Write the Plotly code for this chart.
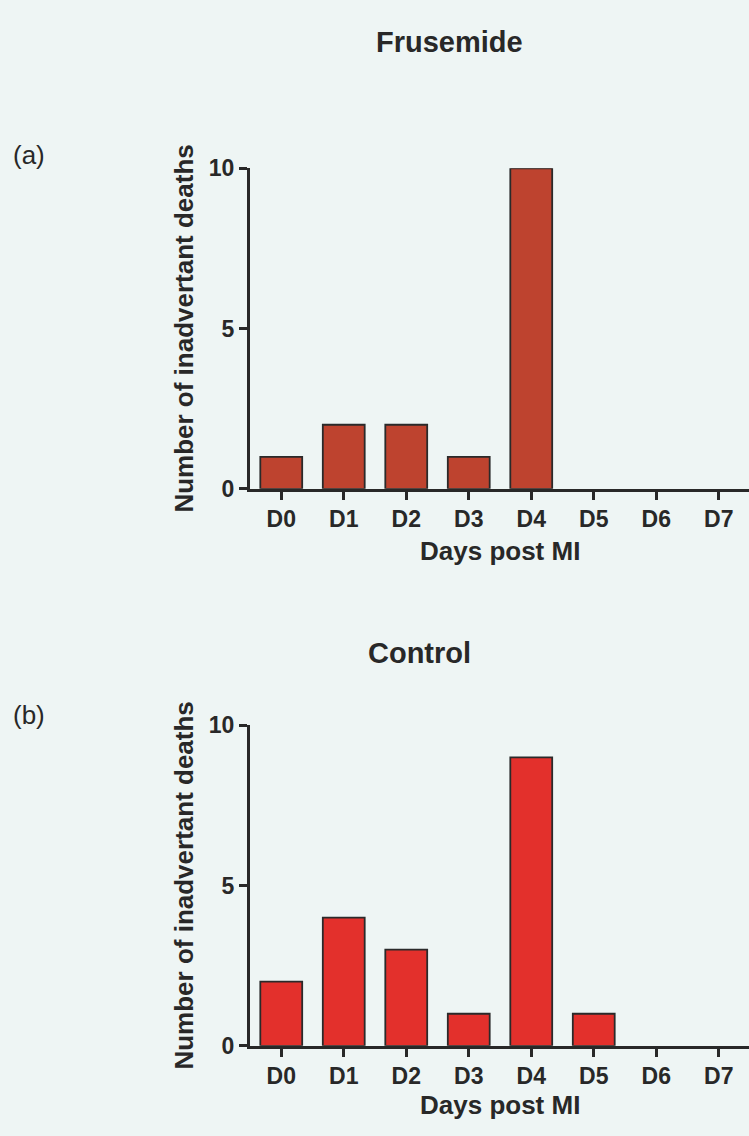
import plotly.graph_objects as go

days = ["D0", "D1", "D2", "D3", "D4", "D5", "D6", "D7"]
frusemide_deaths = [1, 2, 2, 1, 10, 0, 0, 0]
control_deaths = [2, 4, 3, 1, 9, 1, 0, 0]
y_ticks = [0, 5, 10]
panel_titles = ["Frusemide", "Control"]
panel_labels = ["(a)", "(b)"]
x_title = "Days post MI"
y_title = "Number of inadvertant deaths"

W, H = 749, 1136
BG = "#eef5f4"
FONT = "Liberation Sans, Arial, sans-serif"
INK = "#282828"

def px(x):
    return x / W

def py(y):
    return 1 - y / H

def outline_widths(vals):
    return [1.8 if v > 0 else 0 for v in vals]

fig = go.Figure()
fig.add_trace(go.Bar(x=days, y=frusemide_deaths, xaxis="x", yaxis="y",
                     marker=dict(color="#be432f",
                                 line=dict(color="#2a2a2a", width=outline_widths(frusemide_deaths))),
                     showlegend=False))
fig.add_trace(go.Bar(x=days, y=control_deaths, xaxis="x2", yaxis="y2",
                     marker=dict(color="#e3302c",
                                 line=dict(color="#2a2a2a", width=outline_widths(control_deaths))),
                     showlegend=False))

xdom = [px(250), 1.0]
xr = [-0.5, 7.484]
common_x = dict(range=xr, showgrid=False, zeroline=False, showline=True, linecolor=INK,
                linewidth=3, ticks="outside", ticklen=8, tickwidth=3, tickcolor=INK,
                tickfont=dict(family=FONT, size=23, color=INK, weight="bold"), fixedrange=True)
common_y = dict(range=[0, 10], tickvals=y_ticks, showgrid=False, zeroline=False, showline=True,
                linecolor=INK, linewidth=3, ticks="outside", ticklen=8, tickwidth=3, tickcolor=INK,
                tickfont=dict(family=FONT, size=23, color=INK, weight="bold"), fixedrange=True)

fig.update_layout(
    width=W, height=H,
    margin=dict(l=0, r=0, t=0, b=0),
    paper_bgcolor=BG, plot_bgcolor=BG,
    bargap=0.33,
    xaxis=dict(domain=xdom, anchor="y", **common_x),
    yaxis=dict(domain=[py(487), py(159)], anchor="x", **common_y),
    xaxis2=dict(domain=xdom, anchor="y2", **common_x),
    yaxis2=dict(domain=[py(1057), py(729)], anchor="x2", **common_y),
)

ann = []
ann.append(dict(text=panel_titles[0], x=px(449), y=py(30), xref="paper", yref="paper",
                showarrow=False, xanchor="center", yanchor="middle",
                font=dict(family=FONT, size=29, color=INK, weight="bold")))
ann.append(dict(text=panel_titles[1], x=px(420), y=py(655), xref="paper", yref="paper",
                showarrow=False, xanchor="center", yanchor="middle",
                font=dict(family=FONT, size=29, color=INK, weight="bold")))
for lab, yy in zip(panel_labels, [145, 718]):
    ann.append(dict(text=lab, x=px(29), y=py(yy), xref="paper", yref="paper",
                    showarrow=False, xanchor="center", yanchor="middle",
                    font=dict(family=FONT, size=26, color=INK)))
for yy in [551, 1118]:
    ann.append(dict(text=x_title, x=px(500), y=py(yy), xref="paper", yref="paper",
                    showarrow=False, xanchor="center", yanchor="middle",
                    font=dict(family=FONT, size=26, color=INK, weight="bold")))
for yy in [323, 893]:
    ann.append(dict(text=y_title, x=px(184), y=py(yy), xref="paper", yref="paper",
                    showarrow=False, xanchor="center", yanchor="middle", textangle=-90,
                    font=dict(family=FONT, size=26, color=INK, weight="bold")))
fig.update_layout(annotations=ann)

fig.write_html("out.html")
